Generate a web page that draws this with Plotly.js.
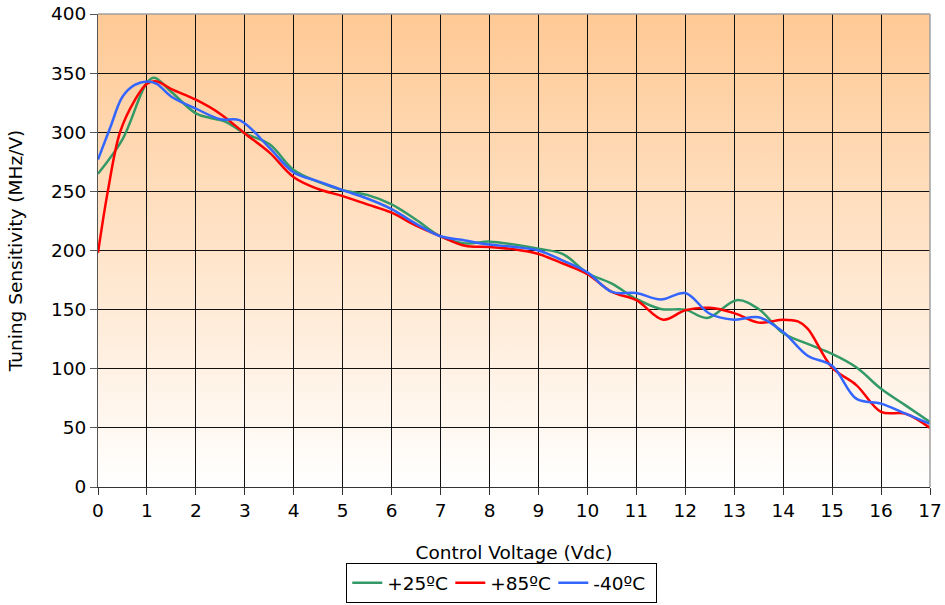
<!DOCTYPE html>
<html>
<head>
<meta charset="utf-8">
<script src="https://cdn.plot.ly/plotly-3.0.1.min.js"></script>
<style>html,body{margin:0;padding:0;background:#fff;}#chart{width:945px;height:605px;}</style>
</head>
<body>
<div id="chart"></div>
<script>
// Series names
var seriesNames = ["+25ºC", "+85ºC", "-40ºC"];

// +25ºC
var x25 = [0, 0.5, 1, 1.15, 1.5, 2, 2.3, 2.6, 3, 3.5, 4, 4.5, 5, 5.5, 6, 6.5, 7, 7.5, 8, 8.5, 9, 9.5, 10, 10.5, 11, 11.5, 12, 12.45, 13.05, 13.5, 14, 14.5, 15, 15.5, 16, 16.5, 17];
var y25 = [265, 294, 342, 346, 334, 316, 312, 309, 299, 290, 268, 258, 251, 247, 239, 226, 212, 206, 207.5, 205, 201.5, 197, 181, 172, 159, 150.5, 150, 143, 158, 150.5, 130, 121, 112.5, 101, 83, 69, 55];

// +85ºC
var x85 = [0, 0.2, 0.45, 0.75, 1, 1.2, 1.5, 2, 2.5, 3, 3.5, 4, 4.5, 5, 5.5, 6, 6.5, 7, 7.5, 8, 8.5, 9, 9.5, 10, 10.5, 11, 11.55, 12, 12.5, 13, 13.5, 14, 14.3, 14.5, 15, 15.5, 16, 16.5, 17];
var y85 = [198, 250, 300, 327, 341, 343, 336.5, 327.5, 315.5, 299, 283, 262, 252, 246, 239, 232, 221, 212, 204, 203, 201, 197, 189, 180, 165, 158, 141.5, 149.5, 151.5, 147, 139, 141.5, 140, 134, 101, 86, 63.5, 62, 50];

// -40ºC
var x40 = [0, 0.25, 0.5, 0.75, 1, 1.2, 1.5, 2, 2.5, 2.9, 3.5, 4, 4.5, 5, 5.5, 6, 6.5, 7, 7.5, 8, 8.5, 9, 9.5, 10, 10.5, 11, 11.5, 12, 12.5, 13, 13.5, 14, 14.5, 15, 15.5, 16, 16.5, 17];
var y40 = [277, 304, 330, 340, 343, 341, 330, 320, 311, 310, 287, 266, 258.5, 251, 244, 235, 222.5, 212, 208.5, 205, 203, 200, 191.5, 181.5, 165, 164, 158.5, 164, 146.5, 141.5, 143.5, 131, 111, 102.5, 74.5, 70.5, 62, 53.5];

var seriesColors = ["#339966", "#FF0000", "#3366FF"];

var xTicks = [0,1,2,3,4,5,6,7,8,9,10,11,12,13,14,15,16,17];
var yTicks = [0,50,100,150,200,250,300,350,400];

var xs = [x25, x85, x40];
var ys = [y25, y85, y40];
var traces = [];
for (var i = 0; i < 3; i++) {
  traces.push({
    type: "scatter", mode: "lines", name: seriesNames[i],
    x: xs[i], y: ys[i],
    line: {color: seriesColors[i], width: 2.5, shape: "spline", smoothing: 1},
    hoverinfo: "x+y+name"
  });
}

var svg = '<svg xmlns="http://www.w3.org/2000/svg" width="100" height="100" preserveAspectRatio="none" viewBox="0 0 100 100">' +
  '<defs><linearGradient id="g" x1="0" y1="0" x2="0" y2="1">' +
  '<stop offset="0" stop-color="#FFC994"/><stop offset="1" stop-color="#FFFFFF"/>' +
  '</linearGradient></defs><rect x="0" y="0" width="100" height="100" fill="url(#g)"/></svg>';
var bgUri = "data:image/svg+xml;charset=utf-8," + encodeURIComponent(svg);

var fontFam = "DejaVu Sans, Verdana, sans-serif";
var fs = 18.5;

var layout = {
  width: 945, height: 605,
  margin: {l: 98, r: 15, t: 14, b: 118},
  paper_bgcolor: "#FFFFFF",
  plot_bgcolor: "rgba(0,0,0,0)",
  font: {family: fontFam, size: fs, color: "#000"},
  showlegend: true,
  legend: {
    orientation: "h", x: 0.531, xref: "container", xanchor: "center",
    y: 0.003, yref: "container", yanchor: "bottom",
    bordercolor: "#000", borderwidth: 1, bgcolor: "#FFFFFF",
    font: {family: fontFam, size: 18.5, color: "#000"},
    itemwidth: 30, tracegroupgap: 0,
    entrywidth: 58, entrywidthmode: "pixels"
  },
  xaxis: {
    range: [0, 17], tickvals: xTicks, ticktext: xTicks.map(String),
    showgrid: true, gridcolor: "#111111", gridwidth: 1,
    zeroline: false, showline: true, linecolor: "#333333", linewidth: 1,
    ticks: "outside", ticklen: 7, tickcolor: "#333333",
    tickfont: {family: fontFam, size: fs, color: "#000"},
    title: {text: "Control Voltage (Vdc)", font: {family: fontFam, size: fs, color: "#000"}, standoff: 26},
    automargin: false, fixedrange: true
  },
  yaxis: {
    range: [0, 400], tickvals: yTicks, ticktext: yTicks.map(String),
    showgrid: true, gridcolor: "#111111", gridwidth: 1,
    zeroline: false, showline: true, linecolor: "#555555", linewidth: 1,
    ticks: "outside", ticklen: 7, tickcolor: "#555555",
    tickfont: {family: fontFam, size: fs, color: "#000"},
    title: {text: "Tuning Sensitivity (MHz/V)", font: {family: fontFam, size: fs, color: "#000"}, standoff: 23},
    automargin: false, fixedrange: true
  },
  images: [{
    source: bgUri, xref: "paper", yref: "paper", x: 0, y: 1, sizex: 1, sizey: 1,
    sizing: "stretch", xanchor: "left", yanchor: "top", layer: "below"
  }],
  shapes: [
    {type: "line", xref: "paper", yref: "paper", x0: 0, x1: 1, y0: 1, y1: 1, line: {color: "#A0A0A0", width: 1.5}, layer: "above"},
    {type: "line", xref: "paper", yref: "paper", x0: 1, x1: 1, y0: 0, y1: 1, line: {color: "#A0A0A0", width: 1.5}, layer: "above"}
  ]
};

Plotly.newPlot("chart", traces, layout, {displayModeBar: false, staticPlot: true});
</script>
</body>
</html>
